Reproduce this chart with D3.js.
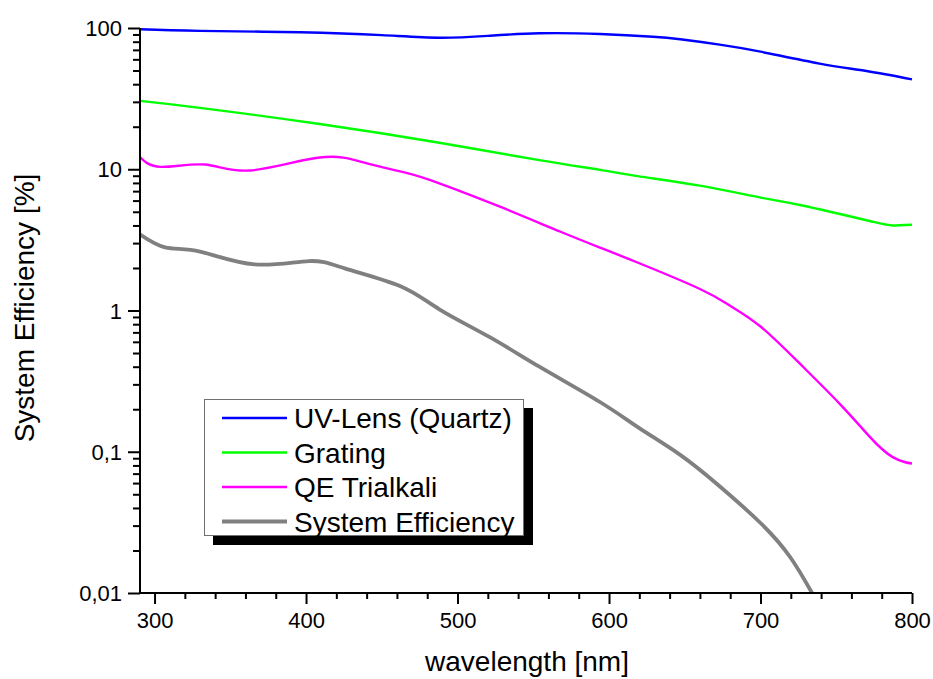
<!DOCTYPE html>
<html>
<head>
<meta charset="utf-8">
<script src="https://cdn.jsdelivr.net/npm/d3@7"></script>
<style>
  body { margin: 0; background: #fff; }
  svg text { font-family: "Liberation Sans", Arial, sans-serif; fill: #000; }
</style>
</head>
<body>
<svg id="chart" width="933" height="679"></svg>
<script>
// values, [wavelength nm, efficiency %]
var uvLens = [[290, 97.9], [330, 95.5], [396, 93.2], [450, 89], [488, 85.4], [520, 88],
  [554, 91.7], [594, 90.7], [629, 86.8], [647, 83.2], [673, 76.3], [700, 68], [739, 56],
  [770, 49.6], [800, 43.3]];
var grating = [[290, 30.5], [330, 27.2], [409, 20.9], [488, 15.4], [554, 11.6], [594, 9.9],
  [620, 8.9], [660, 7.65], [700, 6.3], [726, 5.58], [772, 4.3], [787, 4.0], [800, 4.05]];
var qeTrialkali = [[290, 12.3], [304, 10.4], [333, 10.8], [363, 9.8], [409, 12.1], [439, 11.1],
  [465, 9.5], [488, 7.95], [528, 5.43], [568, 3.61], [594, 2.79], [620, 2.16],
  [660, 1.42], [680, 1.08], [700, 0.77], [726, 0.42], [752, 0.22], [772, 0.128],
  [780, 0.105], [787, 0.092], [795, 0.0846], [800, 0.0826]];
var systemEff = [[290, 3.48], [307, 2.8], [330, 2.61], [366, 2.12], [402, 2.24],
  [426, 1.98], [462, 1.49], [488, 1.02], [521, 0.65], [554, 0.4], [594, 0.225], [620, 0.147],
  [647, 0.095], [673, 0.057], [700, 0.0313], [720, 0.0177], [734, 0.01], [738, 0.0085]];

var seriesNames = ['UV-Lens (Quartz)', 'Grating', 'QE Trialkali', 'System Efficiency'];
var seriesColors = ['#0000ff', '#00ff00', '#ff00ff', '#808080'];
var seriesWidths = [2.4, 2.4, 2.4, 3.8];
var seriesData = [uvLens, grating, qeTrialkali, systemEff];

var xMajor = [300, 400, 500, 600, 700, 800];
var yMajor = [0.01, 0.1, 1, 10, 100];
var yLabels = ['0,01', '0,1', '1', '10', '100'];

function drawChart() {
  var svg = d3.select('#chart');
  // plot area in pixels (note: "top" would clash with window.top)
  var plotLeft = 140, plotRight = 912, plotTop = 28, plotBottom = 593;

  var x = d3.scaleLinear().domain([290.4, 800]).range([plotLeft, plotRight]);
  var y = d3.scaleLog().domain([0.01, 100]).range([plotBottom, plotTop]);

  svg.append('clipPath').attr('id', 'plot-clip')
    .append('rect')
    .attr('x', plotLeft).attr('y', plotTop - 5)
    .attr('width', plotRight - plotLeft + 2).attr('height', plotBottom - plotTop + 5);

  var line = d3.line()
    .x(d => x(d[0]))
    .y(d => y(d[1]))
    .curve(d3.curveNatural);

  var lines = svg.append('g').attr('clip-path', 'url(#plot-clip)');
  seriesData.forEach(function(data, i) {
    lines.append('path')
      .attr('d', line(data))
      .attr('fill', 'none')
      .attr('stroke', seriesColors[i])
      .attr('stroke-width', seriesWidths[i]);
  });

  // minor ticks
  var xMinor = d3.range(300, 801, 20).filter(v => xMajor.indexOf(v) < 0);
  var yMinor = [];
  [0.01, 0.1, 1, 10].forEach(function(dec) {
    for (var k = 2; k <= 9; k++) yMinor.push(dec * k);
  });

  var xAxisMinor = svg.append('g')
    .attr('transform', `translate(0,${plotBottom})`)
    .call(d3.axisBottom(x).tickValues(xMinor).tickSize(6).tickFormat(''));
  var yAxisMinor = svg.append('g')
    .attr('transform', `translate(${plotLeft},0)`)
    .call(d3.axisLeft(y).tickValues(yMinor).tickSize(7).tickFormat(''));

  var xAxis = svg.append('g')
    .attr('transform', `translate(0,${plotBottom})`)
    .call(d3.axisBottom(x).tickValues(xMajor).tickSize(11).tickPadding(8)
      .tickFormat(d3.format('d')));
  var yAxis = svg.append('g')
    .attr('transform', `translate(${plotLeft},0)`)
    .call(d3.axisLeft(y).tickValues(yMajor).tickSize(12).tickPadding(6)
      .tickFormat((d, i) => yLabels[i]));

  [xAxisMinor, yAxisMinor, xAxis, yAxis].forEach(function(g) {
    g.selectAll('path, line').attr('stroke', '#000').attr('stroke-width', 2);
    g.selectAll('text').style('font-size', '22px').attr('fill', '#000');
  });
  xAxisMinor.select('.domain').remove();
  yAxisMinor.select('.domain').remove();
  xAxis.select('.domain').attr('d', `M${plotLeft},0H${plotRight}`);
  yAxis.select('.domain').attr('d', `M0,${plotBottom}V${plotTop}`);
  yAxis.selectAll('text').attr('dy', '0.35em');

  svg.append('text')
    .attr('x', 527).attr('y', 671)
    .attr('text-anchor', 'middle')
    .style('font-size', '28px')
    .text('wavelength [nm]');

  svg.append('text')
    .attr('transform', 'translate(34,308) rotate(-90)')
    .attr('text-anchor', 'middle')
    .style('font-size', '28px')
    .text('System Efficiency [%]');

  // legend with a hard black drop shadow
  var legend = svg.append('g');
  legend.append('rect')
    .attr('x', 213).attr('y', 408).attr('width', 320).attr('height', 137)
    .attr('fill', '#000');
  legend.append('rect')
    .attr('x', 204.5).attr('y', 399.5).attr('width', 319).attr('height', 136)
    .attr('fill', '#fff').attr('stroke', '#707070').attr('stroke-width', 1);

  seriesNames.forEach(function(name, i) {
    var ry = 418 + i * 34.5;
    legend.append('line')
      .attr('x1', 222).attr('x2', 287)
      .attr('y1', ry).attr('y2', ry)
      .attr('stroke', seriesColors[i])
      .attr('stroke-width', seriesWidths[i]);
    legend.append('text')
      .attr('x', 294).attr('y', ry)
      .attr('dy', '0.36em')
      .style('font-size', '28px')
      .text(name);
  });
}

drawChart();
</script>
</body>
</html>
